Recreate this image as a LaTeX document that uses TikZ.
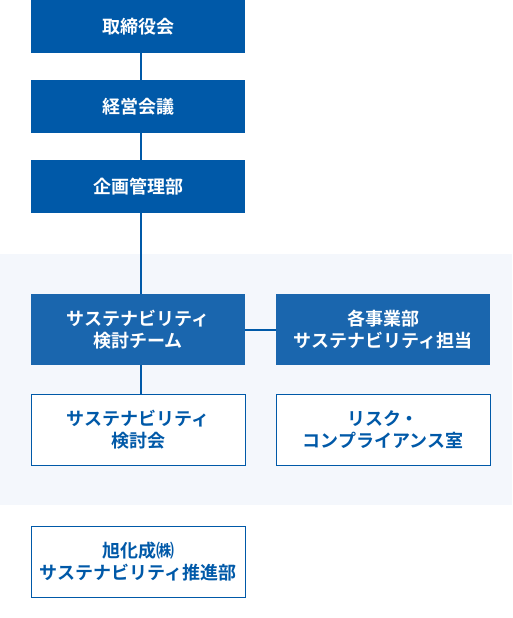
\documentclass[tikz,border=0pt]{standalone}
\usepackage{fontspec}
\newfontfamily\jpfont{Noto Sans CJK JP}[BoldFont={Noto Sans CJK JP Bold}]
\usetikzlibrary{positioning}
\definecolor{deepblue}{HTML}{0059A8}
\definecolor{teamblue}{HTML}{1A66AE}
\definecolor{bandgray}{HTML}{F4F7FC}
\tikzset{
  orgbox/.style={minimum width=214pt, minimum height=53pt, inner sep=0pt, align=center,
    font=\jpfont\bfseries\fontsize{18}{22}\selectfont},
  topbox/.style={orgbox, fill=deepblue, text=white},
  teambox/.style={orgbox, fill=teamblue, text=white, minimum height=71pt},
  subbox/.style={orgbox, fill=white, draw=deepblue, line width=1pt, text=deepblue, minimum height=71pt},
  link/.style={draw=deepblue, line width=2pt}
}

\begin{document}
\begin{tikzpicture}[x=1pt,y=-1pt]
				%\draw[color=gray,step=10pt,help lines,opacity=0.3] (0,0) grid (512,618); %help grids
				\useasboundingbox (0,0) rectangle (512,618);
				\fill[bandgray] (0,254) rectangle (512,505);
				\node[topbox] (board) at (138,26.5) {取締役会};
				\node[topbox] (meeting) at (138,106.5) {経営会議};
				\node[topbox] (planning) at (138,186.5) {企画管理部};
				\node[teambox] (team) at (138,329.5) {サステナビリティ\\検討チーム};
				\node[teambox] (division) at (383,329.5) {各事業部\\サステナビリティ担当};
				\node[subbox] (council) at (138,429.5) {サステナビリティ\\検討会};
				\node[subbox] (risk) at (383,429.5) {リスク・\\コンプライアンス室};
				\node[subbox] (promo) at (138,561.5) {旭化成㈱\\サステナビリティ推進部};
				\draw[link] ([xshift=3pt]board.south)--([xshift=3pt]meeting.north);
				\draw[link] ([xshift=3pt]meeting.south)--([xshift=3pt]planning.north);
				\draw[link] ([xshift=3pt]planning.south)--([xshift=3pt]team.north);
				\draw[link] ([xshift=3pt]team.south)--([xshift=3pt]council.north);
				\draw[link] (team.east)--(division.west);
\end{tikzpicture}
\end{document}
